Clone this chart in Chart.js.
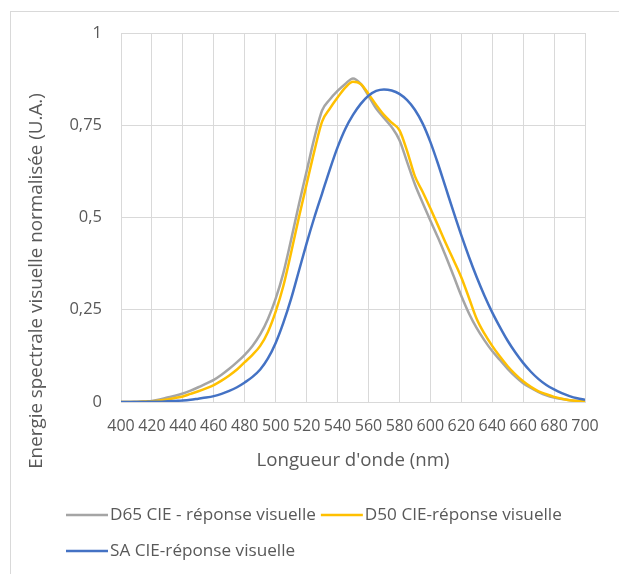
<!DOCTYPE html>
<html>
<head>
<meta charset="utf-8">
<script src="https://cdn.jsdelivr.net/npm/chart.js@4"></script>
<style>
html,body{margin:0;padding:0;background:#fff;}
#wrap{width:619px;height:574px;position:relative;}
</style>
</head>
<body>
<div id="wrap"><canvas id="c" width="619" height="574"></canvas></div>
<script>
const wavelengths = [400,405,410,415,420,425,430,435,440,445,450,455,460,465,470,475,480,485,490,495,500,505,510,515,520,525,530,535,540,545,550,555,560,565,570,575,580,585,590,595,600,605,610,615,620,625,630,635,640,645,650,655,660,665,670,675,680,685,690,695,700];
const d65 = [0.000,0.000,0.001,0.002,0.003,0.007,0.012,0.017,0.023,0.031,0.040,0.050,0.060,0.074,0.090,0.108,0.128,0.152,0.183,0.225,0.280,0.350,0.440,0.535,0.625,0.715,0.790,0.820,0.843,0.862,0.877,0.862,0.830,0.795,0.770,0.745,0.710,0.650,0.590,0.540,0.492,0.445,0.395,0.342,0.288,0.240,0.200,0.167,0.138,0.114,0.090,0.069,0.051,0.038,0.027,0.018,0.012,0.008,0.005,0.003,0.002];
const d50 = [0.000,0.000,0.000,0.001,0.002,0.004,0.007,0.011,0.015,0.022,0.029,0.037,0.046,0.058,0.072,0.088,0.108,0.128,0.152,0.190,0.245,0.315,0.405,0.500,0.590,0.680,0.760,0.795,0.825,0.852,0.868,0.862,0.835,0.805,0.778,0.757,0.737,0.680,0.612,0.570,0.525,0.478,0.430,0.385,0.338,0.282,0.225,0.185,0.152,0.123,0.097,0.075,0.056,0.041,0.029,0.021,0.014,0.009,0.005,0.003,0.002];
const sa = [0.000,0.000,0.000,0.000,0.001,0.001,0.002,0.003,0.004,0.006,0.009,0.012,0.016,0.022,0.030,0.040,0.053,0.068,0.088,0.118,0.160,0.215,0.280,0.355,0.430,0.500,0.565,0.630,0.690,0.740,0.778,0.808,0.830,0.843,0.847,0.844,0.835,0.818,0.792,0.755,0.705,0.645,0.580,0.515,0.452,0.393,0.338,0.288,0.243,0.203,0.166,0.134,0.106,0.082,0.062,0.046,0.034,0.024,0.016,0.010,0.006];
const seriesLabels = ['D65 CIE - réponse visuelle','D50 CIE-réponse visuelle','SA CIE-réponse visuelle'];
const seriesColors = ['#A5A5A5','#FFC000','#4472C4'];
const yTickLabels = ['0','0,25','0,5','0,75','1'];
const xTitle = "Longueur d'onde (nm)";
const yTitle = 'Energie spectrale visuelle normalisée (U.A.)';

const FONT = "'Open Sans', sans-serif";
const TXT = '#595959';

function pts(vals){ return wavelengths.map((w,i)=>({x:w,y:vals[i]})); }

function fitFont(ctx, text, target){
  ctx.font = "20px " + FONT;
  const w = ctx.measureText(text).width;
  const size = 20 * target / w;
  return size.toFixed(2) + "px " + FONT;
}

const extras = {
  id:'extras',
  beforeDraw(chart){
    const ctx = chart.ctx;
    ctx.save();
    ctx.fillStyle='#fff';
    ctx.fillRect(0,0,chart.width,chart.height);
    ctx.strokeStyle='#D9D9D9';
    ctx.lineWidth=1;
    ctx.strokeRect(10.5,11.5,700,700);
    ctx.restore();
  },
  afterDraw(chart){
    const ctx = chart.ctx;
    const ca = chart.chartArea;
    ctx.save();
    ctx.fillStyle = TXT;
    ctx.textBaseline='middle';
    // x title
    ctx.font = fitFont(ctx, xTitle, 193);
    ctx.textAlign='center';
    ctx.fillText(xTitle, (ca.left+ca.right)/2, 461);
    // y title
    ctx.save();
    ctx.translate(37, 281);
    ctx.rotate(-Math.PI/2);
    ctx.font = fitFont(ctx, yTitle, 376);
    ctx.fillText(yTitle, 0, 0);
    ctx.restore();
    // legend
    ctx.font = fitFont(ctx, seriesLabels[0], 206);
    ctx.textAlign='left';
    const rows = [[0,1],[2]];
    const rowY = [515, 551];
    rows.forEach((r,ri)=>{
      let x = 66;
      r.forEach(di=>{
        const ds = chart.data.datasets[di];
        ctx.strokeStyle = ds.borderColor;
        ctx.lineWidth = 2.5;
        ctx.beginPath();
        ctx.moveTo(x, rowY[ri]);
        ctx.lineTo(x+42, rowY[ri]);
        ctx.stroke();
        ctx.fillStyle = TXT;
        ctx.fillText(ds.label, x+44, rowY[ri]);
        x += 44 + ctx.measureText(ds.label).width + 5;
      });
    });
    ctx.restore();
  }
};

new Chart(document.getElementById('c'), {
  type:'line',
  data:{
    datasets:[
      {label:seriesLabels[0], data:pts(d65), borderColor:seriesColors[0], backgroundColor:seriesColors[0], order:3},
      {label:seriesLabels[1], data:pts(d50), borderColor:seriesColors[1], backgroundColor:seriesColors[1], order:2},
      {label:seriesLabels[2], data:pts(sa), borderColor:seriesColors[2], backgroundColor:seriesColors[2], order:1}
    ]
  },
  options:{
    responsive:false,
    animation:false,
    layout:{padding:{left:0,right:34,top:33,bottom:0}},
    elements:{
      point:{radius:0},
      line:{borderWidth:2.5, cubicInterpolationMode:'monotone', fill:false}
    },
    plugins:{legend:{display:false}, tooltip:{enabled:false}},
    scales:{
      x:{
        type:'linear', min:400, max:700,
        afterFit(s){ s.height = 172; },
        ticks:{stepSize:20, color:TXT, font:{family:FONT,size:16}, padding:15, maxRotation:0, autoSkip:false,
               callback:(v)=>String(v)},
        grid:{color:'#D9D9D9', drawTicks:false},
        border:{color:'#D9D9D9'}
      },
      y:{
        min:0, max:1,
        afterFit(s){ s.width = 121; },
        ticks:{stepSize:0.25, color:TXT, font:{family:FONT,size:16.5}, padding:19,
               callback:(v,i)=>yTickLabels[i]},
        grid:{color:'#D9D9D9', drawTicks:false},
        border:{color:'#D9D9D9'}
      }
    }
  },
  plugins:[extras]
});
</script>
</body>
</html>
